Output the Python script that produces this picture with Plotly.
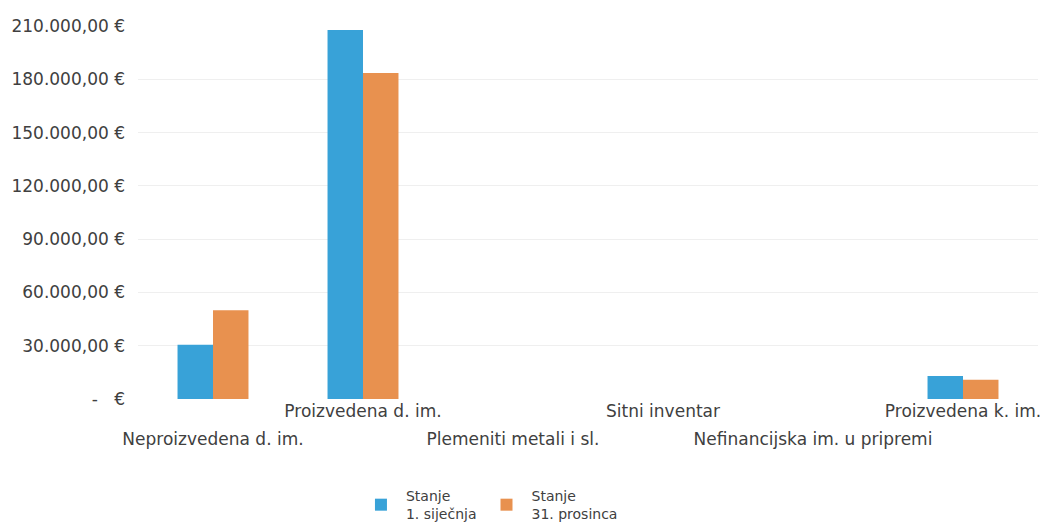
import plotly.graph_objects as go

categories = [
    "Neproizvedena d. im.",
    "Proizvedena d. im.",
    "Plemeniti metali i sl.",
    "Sitni inventar",
    "Nefinancijska im. u pripremi",
    "Proizvedena k. im.",
]
stanje_1_sijecnja = [30500, 207700, 0, 0, 0, 12900]
stanje_31_prosinca = [50000, 183500, 0, 0, 0, 10800]
series_names = ["Stanje<br>1. siječnja", "Stanje<br>31. prosinca"]
y_tick_values = [0, 30000, 60000, 90000, 120000, 150000, 180000, 210000]
y_tick_labels = ["-   €", "30.000,00 €", "60.000,00 €", "90.000,00 €",
                 "120.000,00 €", "150.000,00 €", "180.000,00 €", "210.000,00 €"]

# staggered category labels: upper row (odd index) on x, lower row (even index) on x2
upper_labels = [c if i % 2 == 1 else "" for i, c in enumerate(categories)]
lower_labels = [c if i % 2 == 0 else "" for i, c in enumerate(categories)]

FONT = "DejaVu Sans"
TXT = "#404040"
fig = go.Figure()
fig.add_trace(go.Bar(x=categories, y=stanje_1_sijecnja, name=series_names[0],
                     marker=dict(color="#38A2D8", line=dict(width=0))))
fig.add_trace(go.Bar(x=categories, y=stanje_31_prosinca, name=series_names[1],
                     marker=dict(color="#E8914F", line=dict(width=0))))
# empty helper trace so the second (label) axis knows the categories
fig.add_trace(go.Bar(x=categories, y=[None] * len(categories), xaxis="x2",
                     showlegend=False, hoverinfo="skip"))

fig.update_layout(
    width=1046, height=526,
    margin=dict(l=138, r=8, t=26, b=127, autoexpand=False),
    paper_bgcolor="white", plot_bgcolor="white",
    barmode="group", bargap=0.527, bargroupgap=0,
    font=dict(family=FONT, color=TXT, size=14),
    xaxis=dict(tickmode="array", tickvals=categories, ticktext=upper_labels,
               tickangle=0, showgrid=False, showline=False, zeroline=False,
               tickfont=dict(size=17, color=TXT), ticks="", automargin=False),
    xaxis2=dict(overlaying="x", matches="x", anchor="y", side="bottom",
                tickmode="array", tickvals=categories, ticktext=lower_labels,
                tickangle=0, showgrid=False, showline=False, zeroline=False,
                tickfont=dict(size=17, color=TXT), ticks="", automargin=False,
                ticklabelstandoff=28),
    yaxis=dict(range=[0, 210000], tickmode="array", tickvals=y_tick_values,
               ticktext=y_tick_labels, showgrid=True, gridcolor="#EFEFEF",
               zeroline=False, showline=False, ticks="", ticklabelstandoff=12,
               tickfont=dict(size=17, color=TXT), automargin=False),
    legend=dict(orientation="h", xref="container", x=0.3403, xanchor="left",
                yref="container", y=0.0875, yanchor="top",
                font=dict(size=14, color=TXT), traceorder="normal",
                itemwidth=40),
    showlegend=True,
)

fig.write_html("out.html", config={"displayModeBar": False},
               post_script="document.body.style.margin='0px';document.body.style.overflow='hidden';")
